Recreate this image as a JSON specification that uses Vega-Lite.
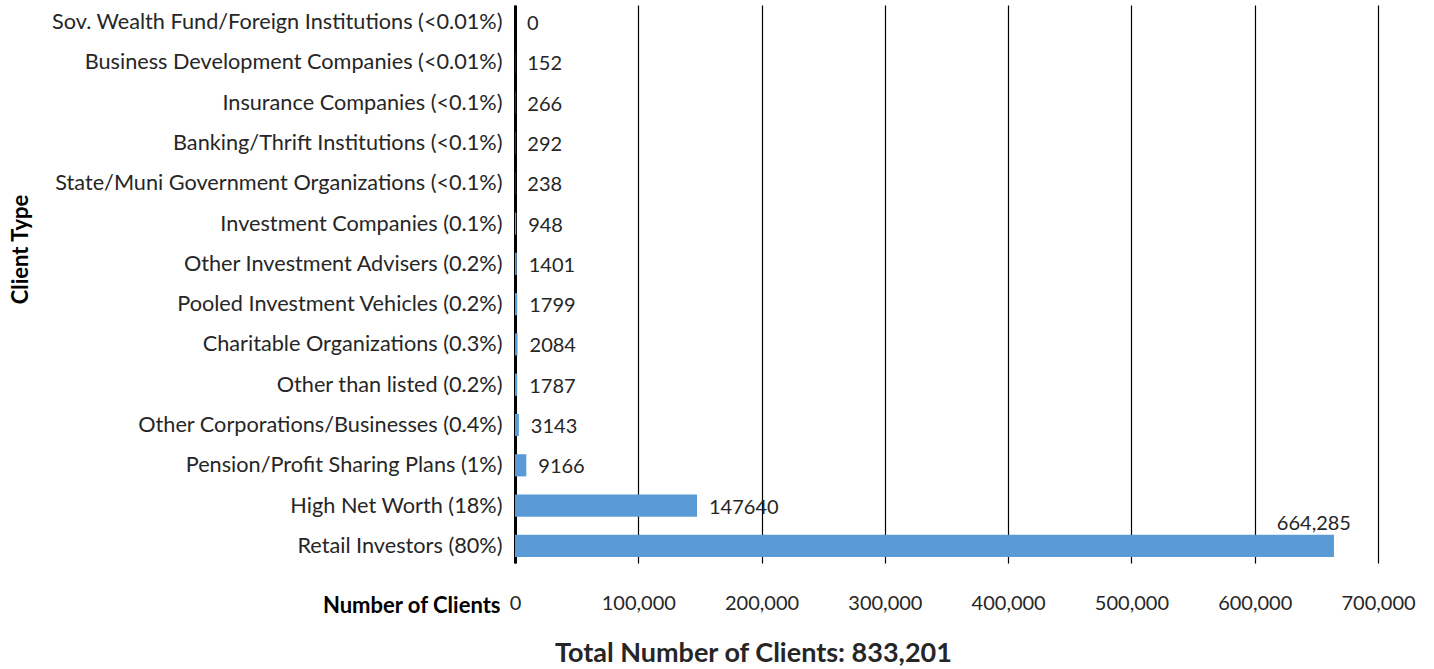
{
  "$schema": "https://vega.github.io/schema/vega-lite/v6.json",
  "autosize": {"type": "none"},
  "width": 863,
  "height": 558,
  "padding": {"left": 515, "top": 5, "right": 56, "bottom": 106},
  "background": "white",
  "title": {
    "text": "Total Number of Clients: 833,201",
    "orient": "bottom",
    "anchor": "start",
    "frame": "group",
    "dx": 40,
    "offset": 25,
    "font": "Lato",
    "fontSize": 27,
    "fontWeight": "bold",
    "color": "#262626"
  },
  "data": {
    "values": [
      {"type": "Sov. Wealth Fund/Foreign Institutions (<0.01%)", "clients": 0, "label": "0"},
      {"type": "Business Development Companies (<0.01%)", "clients": 152, "label": "152"},
      {"type": "Insurance Companies (<0.1%)", "clients": 266, "label": "266"},
      {"type": "Banking/Thrift Institutions (<0.1%)", "clients": 292, "label": "292"},
      {"type": "State/Muni Government Organizations (<0.1%)", "clients": 238, "label": "238"},
      {"type": "Investment Companies (0.1%)", "clients": 948, "label": "948"},
      {"type": "Other Investment Advisers (0.2%)", "clients": 1401, "label": "1401"},
      {"type": "Pooled Investment Vehicles (0.2%)", "clients": 1799, "label": "1799"},
      {"type": "Charitable Organizations (0.3%)", "clients": 2084, "label": "2084"},
      {"type": "Other than listed (0.2%)", "clients": 1787, "label": "1787"},
      {"type": "Other Corporations/Businesses (0.4%)", "clients": 3143, "label": "3143"},
      {"type": "Pension/Profit Sharing Plans (1%)", "clients": 9166, "label": "9166"},
      {"type": "High Net Worth (18%)", "clients": 147640, "label": "147640"},
      {"type": "Retail Investors (80%)", "clients": 664285, "label": "664,285"}
    ]
  },
  "encoding": {
    "y": {
      "field": "type",
      "type": "nominal",
      "sort": null,
      "scale": {"paddingInner": 0.45, "paddingOuter": 0.15},
      "axis": {
        "title": "Client Type",
        "titleFont": "Lato",
        "titleFontSize": 22,
        "titleFontWeight": "bold",
        "titleColor": "#000",
        "titleX": -495,
        "titleY": 244,
        "titleBaseline": "middle",
        "titleAngle": -90,
        "labelFont": "Lato",
        "labelFontSize": 21.7,
        "labelColor": "#262626",
        "labelPadding": 13,
        "labelLimit": 600,
        "ticks": false,
        "domain": true,
        "domainColor": "#000",
        "domainWidth": 3,
        "grid": false
      }
    },
    "x": {
      "field": "clients",
      "type": "quantitative",
      "scale": {"domain": [0, 700000], "nice": false},
      "axis": {
        "values": [0, 100000, 200000, 300000, 400000, 500000, 600000, 700000],
        "format": ",d",
        "title": "Number of Clients",
        "titleFont": "Lato",
        "titleFontSize": 22,
        "titleFontWeight": "bold",
        "titleColor": "#000",
        "titleX": -15,
        "titleY": 42,
        "titleAlign": "right",
        "titleBaseline": "middle",
        "labelFont": "Lato",
        "labelFontSize": 20,
        "labelColor": "#262626",
        "labelPadding": 30,
        "labelFlush": false,
        "labelBound": false,
        "labelOverlap": false,
        "ticks": false,
        "domain": false,
        "grid": true,
        "gridColor": "#000",
        "gridWidth": 1.2,
        "gridOpacity": 1
      }
    }
  },
  "layer": [
    {"mark": {"type": "bar", "color": "#5B9BD5"}},
    {
      "transform": [{"filter": "datum.clients < 600000"}],
      "mark": {"type": "text", "align": "left", "baseline": "middle", "dx": 12, "dy": 2, "font": "Lato", "fontSize": 20, "color": "#262626"},
      "encoding": {"text": {"field": "label"}}
    },
    {
      "transform": [{"filter": "datum.clients >= 600000"}],
      "mark": {"type": "text", "align": "right", "baseline": "middle", "dx": 17, "dy": -22, "font": "Lato", "fontSize": 20, "color": "#262626"},
      "encoding": {"text": {"field": "label"}}
    }
  ],
  "config": {"view": {"stroke": null}}
}
